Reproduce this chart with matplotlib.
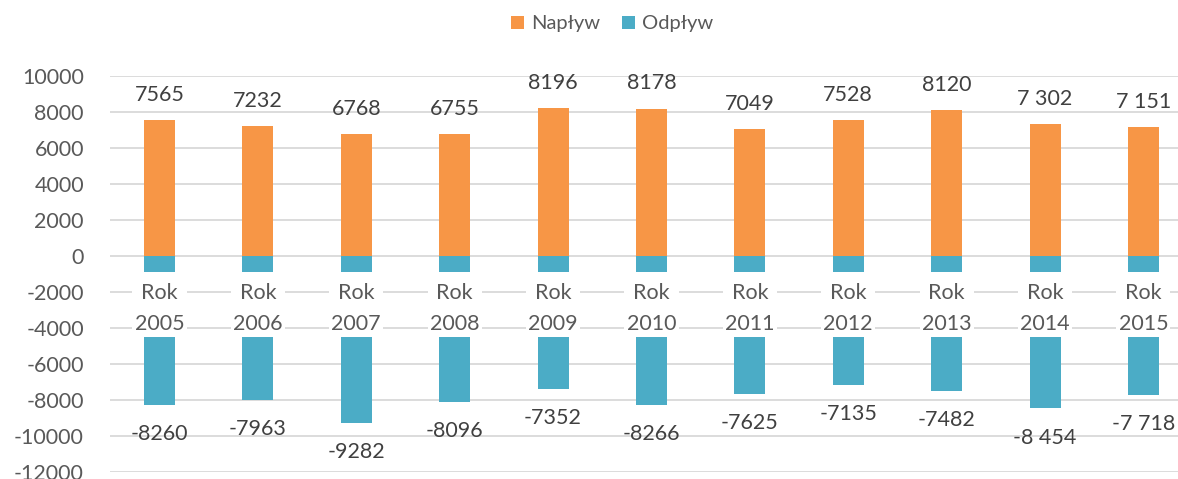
import matplotlib
matplotlib.use("Agg")
import matplotlib.pyplot as plt
from matplotlib.patches import Rectangle, Patch
import numpy as np

plt.rcParams['font.family'] = ['Lato', 'DejaVu Sans']

years = ["2005", "2006", "2007", "2008", "2009", "2010", "2011", "2012", "2013", "2014", "2015"]
inflow = [7565, 7232, 6768, 6755, 8196, 8178, 7049, 7528, 8120, 7302, 7151]
outflow = [-8260, -7963, -9282, -8096, -7352, -8266, -7625, -7135, -7482, -8454, -7718]
inflow_labels = ["7565", "7232", "6768", "6755", "8196", "8178", "7049", "7528", "8120", "7 302", "7 151"]
outflow_labels = ["-8260", "-7963", "-9282", "-8096", "-7352", "-8266", "-7625", "-7135", "-7482", "-8 454", "-7 718"]
yticks = [10000, 8000, 6000, 4000, 2000, 0, -2000, -4000, -6000, -8000, -10000, -12000]

ORANGE = "#F79646"
TEAL = "#4BACC6"

W, H = 1178, 479
fig = plt.figure(figsize=(W / 100, H / 100), dpi=100)
ax = fig.add_axes([110.3 / W, 6.6 / H, 1082.3 / W, (472.4 - 75.7) / H])

x = np.arange(len(years))
bw = 0.315
ax.bar(x, inflow, width=bw, color=ORANGE, zorder=2)
ax.bar(x, outflow, width=bw, color=TEAL, zorder=2)

ax.set_xlim(-0.5, len(years) - 0.5)
ax.set_ylim(-12000, 10000)
ax.set_yticks(yticks)
ax.set_yticklabels([str(v) for v in yticks])
ax.tick_params(axis='y', length=0, pad=19, labelsize=15.5, labelcolor="#595959")
ax.set_xticks([])
ax.yaxis.grid(True, color="#D9D9D9", linewidth=1.3, zorder=0)
ax.set_axisbelow(True)
for s in ax.spines.values():
    s.set_visible(False)

# category labels with white background boxes
for i, yr in enumerate(years):
    ax.add_patch(Rectangle((i - 0.275, -4515), 0.55, 4515 - 904,
                           facecolor="white", edgecolor="none", zorder=3))
    ax.text(i, -1941, "Rok", ha='center', va='center_baseline', fontsize=15.5,
            color="#595959", zorder=4)
    ax.text(i, -3660, yr, ha='center', va='center_baseline', fontsize=15.5,
            color="#595959", zorder=4)

# data labels
for i in range(len(years)):
    ax.annotate(inflow_labels[i], (i, inflow[i]), xytext=(0, 19.5), textcoords='offset points',
                ha='center', va='center_baseline', fontsize=15.5, color="#404040", zorder=5)
    ax.annotate(outflow_labels[i], (i, outflow[i]), xytext=(0, -19.5), textcoords='offset points',
                ha='center', va='center_baseline', fontsize=15.5, color="#404040", zorder=5)

handles = [Patch(facecolor=ORANGE, edgecolor='none'), Patch(facecolor=TEAL, edgecolor='none')]
fig.legend(handles, ["Napływ", "Odpływ"], loc='center', bbox_to_anchor=(612 / W, 1 - 24 / H),
           ncol=2, frameon=False, fontsize=14.5, handlelength=0.65, handleheight=0.65,
           handletextpad=0.35, columnspacing=1.1, labelcolor="#595959")

fig.savefig("out.png", dpi=100)
